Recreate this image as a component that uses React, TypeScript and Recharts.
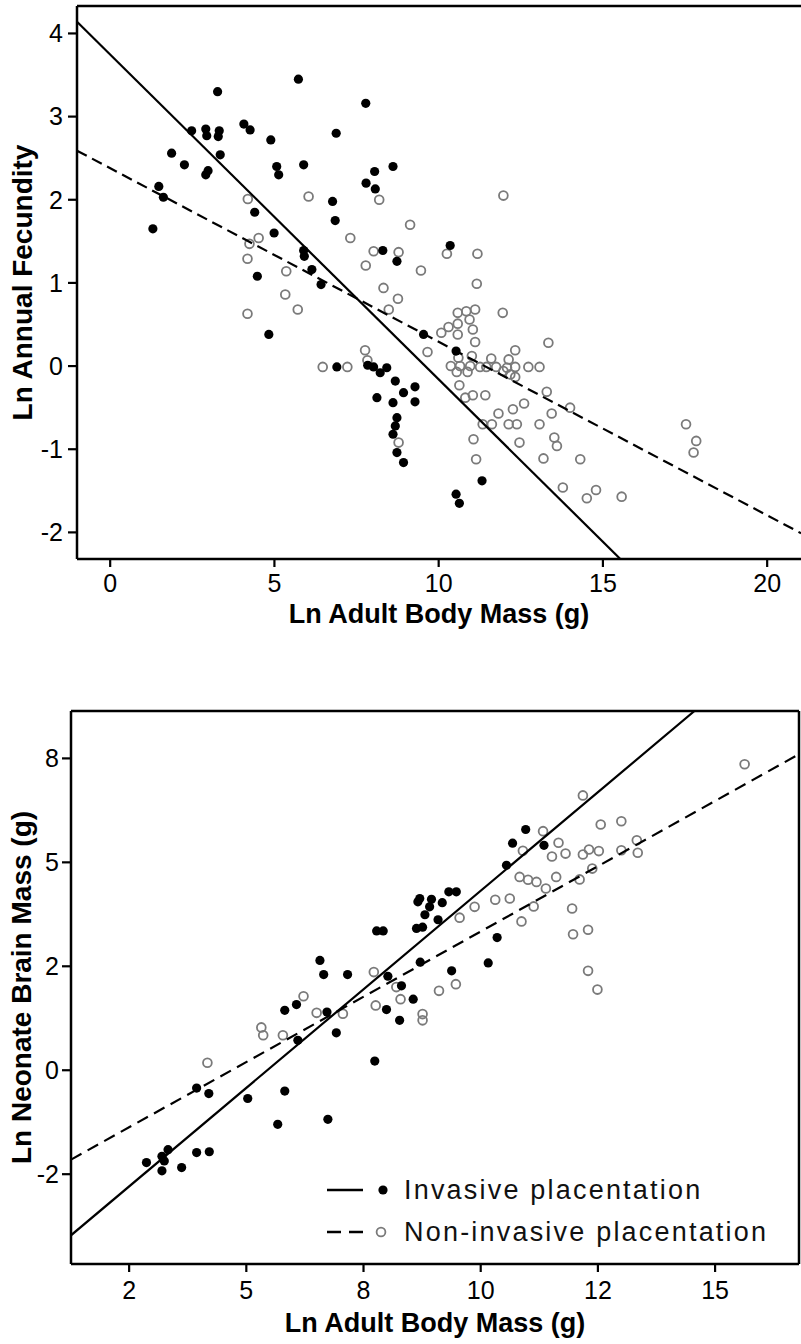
import React from "react";
import { ScatterChart, Scatter, XAxis, YAxis, Legend, ReferenceLine } from "recharts";

const FONT = '"Liberation Sans", Arial, Helvetica, sans-serif';

// top panel: ln annual fecundity vs ln adult body mass, [x, y]
const fecundityInvasive: [number, number][] = [
  [1.3, 1.65], [1.48, 2.16], [1.62, 2.03], [1.87, 2.56], [2.26, 2.42], [2.48, 2.83],
  [2.91, 2.85], [2.94, 2.77], [2.91, 2.3], [2.98, 2.35], [3.27, 3.3], [3.32, 2.83],
  [3.29, 2.76], [3.35, 2.54], [4.07, 2.91], [4.26, 2.84], [4.4, 1.85], [4.48, 1.08],
  [4.83, 0.38], [4.89, 2.72], [4.99, 1.6], [5.07, 2.4], [5.13, 2.3], [5.73, 3.45],
  [5.89, 2.42], [5.89, 1.39], [5.91, 1.32], [6.14, 1.16], [6.42, 0.98], [6.77, 1.98],
  [6.85, 1.75], [6.88, 2.8], [6.9, -0.01], [7.78, 3.16], [7.79, 2.2], [8.05, 2.34],
  [8.07, 2.13], [8.3, 1.39], [8.61, 2.4], [8.73, 1.26], [7.84, 0.01], [8.02, -0.01],
  [8.22, -0.08], [8.42, -0.02], [8.68, -0.18], [8.12, -0.38], [8.61, -0.44], [8.73, -0.62],
  [8.68, -0.72], [8.61, -0.82], [8.73, -1.04], [8.93, -0.32], [9.28, -0.25], [9.28, -0.43],
  [8.93, -1.16], [11.32, -1.38], [10.53, -1.54], [10.63, -1.65], [10.35, 1.45], [9.54, 0.38],
  [10.53, 0.18],
];

const fecundityNonInvasive: [number, number][] = [
  [4.19, 2.01], [4.24, 1.47], [4.52, 1.54], [4.18, 1.29], [4.18, 0.63], [5.36, 1.14],
  [5.33, 0.86], [5.71, 0.68], [6.04, 2.04], [6.47, -0.01], [7.22, -0.01], [7.31, 1.54],
  [7.76, 0.19], [7.83, 0.07], [8.19, 2.0], [8.02, 1.38], [7.78, 1.21], [8.32, 0.94],
  [8.78, 1.37], [8.76, 0.81], [8.48, 0.68], [9.46, 1.15], [10.25, 1.35], [11.18, 1.35],
  [11.16, 0.99], [9.13, 1.7], [11.97, 2.05], [10.58, 0.64], [10.84, 0.66], [11.11, 0.68],
  [11.95, 0.64], [10.94, 0.56], [10.58, 0.51], [10.3, 0.47], [10.08, 0.4], [11.04, 0.44],
  [10.58, 0.38], [11.11, 0.29], [9.66, 0.17], [13.34, 0.28], [12.33, 0.19], [10.6, 0.1],
  [11.01, 0.12], [11.6, 0.09], [12.13, 0.08], [10.37, 0.0], [10.65, 0.0], [10.96, 0.0],
  [11.26, -0.01], [11.45, -0.01], [11.75, -0.01], [12.08, -0.02], [12.33, -0.01], [12.73, -0.01],
  [13.07, -0.01], [10.55, -0.07], [10.88, -0.07], [12.18, -0.1], [11.97, -0.06], [12.33, -0.13],
  [10.63, -0.23], [11.04, -0.35], [11.42, -0.35], [10.81, -0.38], [13.29, -0.31], [12.6, -0.45],
  [12.26, -0.52], [11.82, -0.57], [13.44, -0.57], [14.0, -0.5], [11.34, -0.7], [11.62, -0.7],
  [12.13, -0.7], [12.38, -0.7], [13.07, -0.7], [17.53, -0.7], [11.06, -0.88], [12.46, -0.92],
  [13.52, -0.86], [13.6, -0.96], [17.84, -0.9], [17.76, -1.04], [11.14, -1.12], [13.19, -1.11],
  [14.31, -1.12], [13.78, -1.46], [14.79, -1.49], [14.51, -1.59], [15.57, -1.57], [8.78, -0.92],
];

// fitted lines, end points
const fecundityFitInvasive: [number, number][] = [[-1.01, 4.14], [15.53, -2.32]];
const fecundityFitNonInvasive: [number, number][] = [[-1.01, 2.59], [21.03, -2.01]];

const fecundityXTicks = [0, 5, 10, 15, 20];
const fecundityYTicks = [-2, -1, 0, 1, 2, 3, 4];

// bottom panel: ln neonate brain mass vs ln adult body mass
const brainInvasive: [number, number][] = [
  [2.87, -2.22], [3.2, -2.07], [3.25, -2.18], [3.2, -2.42], [3.33, -1.91], [3.62, -2.34],
  [3.94, -1.98], [4.21, -1.96], [3.94, -0.43], [4.2, -0.56], [5.03, -0.68], [5.67, -1.3],
  [5.82, -0.5], [6.74, -1.18], [7.74, 0.22], [5.82, 1.44], [6.07, 1.58], [6.72, 1.4],
  [6.92, 0.9], [7.99, 1.46], [8.27, 1.2], [6.1, 0.72], [6.57, 2.64], [6.65, 2.3],
  [7.16, 2.3], [8.02, 2.26], [8.31, 2.03], [8.56, 1.71], [7.78, 3.35], [7.92, 3.35],
  [8.63, 3.41], [8.76, 3.44], [8.81, 3.74], [9.09, 3.62], [8.7, 4.13], [8.66, 4.05],
  [8.95, 4.11], [8.91, 3.93], [9.18, 4.03], [9.32, 4.29], [9.48, 4.29], [10.35, 3.19],
  [8.71, 2.6], [10.16, 2.58], [9.38, 2.39], [10.55, 4.93], [10.68, 5.46], [10.96, 5.79],
  [11.35, 5.41],
];

const brainNonInvasive: [number, number][] = [
  [4.17, 0.18], [5.32, 1.03], [5.36, 0.84], [5.78, 0.84], [6.22, 1.78], [6.5, 1.38],
  [7.06, 1.36], [7.76, 1.56], [7.72, 2.36], [8.2, 2.0], [8.29, 1.71], [8.76, 1.35],
  [8.76, 1.2], [9.11, 1.91], [9.47, 2.07], [9.55, 3.67], [9.87, 3.93], [10.31, 4.1],
  [10.62, 4.13], [10.87, 3.58], [11.13, 3.94], [10.83, 4.65], [11.01, 4.58], [11.19, 4.53],
  [11.39, 4.37], [10.9, 5.28], [11.33, 5.75], [11.66, 5.47], [11.52, 5.14], [11.81, 5.21],
  [12.18, 5.19], [12.31, 5.31], [12.52, 5.27], [13.0, 5.29], [13.33, 5.53], [13.35, 5.23],
  [12.38, 4.85], [12.11, 4.59], [11.61, 4.65], [11.95, 3.89], [11.97, 3.27], [12.29, 3.38],
  [12.29, 2.39], [12.49, 1.94], [12.18, 6.61], [15.63, 7.36], [12.56, 5.91], [13.0, 5.99],
];

const brainFitInvasive: [number, number][] = [[1.26, -3.97], [14.56, 8.64]];
const brainFitNonInvasive: [number, number][] = [[1.26, -2.15], [16.79, 7.6]];

const brainXTicks = [2.5, 5, 7.5, 10, 12.5, 15];
const brainXTickLabels = ["2", "5", "8", "10", "12", "15"];
const brainYTicks = [-2.5, 0, 2.5, 5, 7.5];
const brainYTickLabels = ["-2", "0", "2", "5", "8"];

const legendLabels = ["Invasive placentation", "Non-invasive placentation"];

const toPoints = (rows: [number, number][]) => rows.map(([x, y]) => ({ x, y }));

const AXIS_LINE = { stroke: "#000", strokeWidth: 2.5 };
const TICK_LINE = { stroke: "#000", strokeWidth: 2.2 };
const TICK_TEXT = { fill: "#000", fontSize: 25, fontFamily: FONT };

const FilledDot = (p: any) => <circle cx={p.cx} cy={p.cy} r={4.6} fill="#000" />;
const OpenDot = (p: any) => (
  <circle cx={p.cx} cy={p.cy} r={4.4} fill="none" stroke="#7a7a7a" strokeWidth={1.8} />
);
const NoDot = () => <g />;

function XTitle(props: any) {
  const { viewBox, caption, baseOffset } = props;
  if (!viewBox) return null;
  return (
    <text
      x={viewBox.x + viewBox.width / 2}
      y={viewBox.y + baseOffset}
      textAnchor="middle"
      fontFamily={FONT}
      fontSize={27}
      fontWeight="bold"
      fill="#000"
    >
      {caption}
    </text>
  );
}

function YTitle(props: any) {
  const { viewBox, caption, centerX } = props;
  if (!viewBox) return null;
  const cy = viewBox.y + viewBox.height / 2;
  return (
    <text
      x={centerX}
      y={cy}
      transform={`rotate(-90 ${centerX} ${cy})`}
      textAnchor="middle"
      dominantBaseline="central"
      fontFamily={FONT}
      fontSize={28}
      fontWeight="bold"
      fill="#000"
    >
      {caption}
    </text>
  );
}

function PlacentationLegend() {
  return (
    <div style={{ fontFamily: FONT, fontSize: 27, letterSpacing: 2.2, color: "#111" }}>
      {legendLabels.map((label, i) => (
        <div key={label} style={{ display: "flex", alignItems: "center", height: 42 }}>
          <svg width={79} height={20} style={{ flex: "none" }}>
            <line
              x1={2}
              x2={38}
              y1={10}
              y2={10}
              stroke="#000"
              strokeWidth={2.5}
              strokeDasharray={i === 0 ? undefined : "14 8"}
            />
            {i === 0 ? (
              <circle cx={58} cy={10} r={4.6} fill="#000" />
            ) : (
              <circle cx={56} cy={10} r={4.4} fill="none" stroke="#7a7a7a" strokeWidth={1.8} />
            )}
          </svg>
          <span style={{ whiteSpace: "nowrap" }}>{label}</span>
        </div>
      ))}
    </div>
  );
}

function FecundityChart() {
  const xDomain: [number, number] = [-1.01, 21.03];
  const yDomain: [number, number] = [-2.32, 4.33];
  return (
    <ScatterChart width={801} height={640} margin={{ top: 6, right: 0, bottom: 0, left: 0 }}>
      <XAxis
        type="number"
        dataKey="x"
        domain={xDomain}
        ticks={fecundityXTicks}
        interval={0}
        allowDataOverflow
        height={81}
        tickSize={8}
        tickMargin={7}
        axisLine={AXIS_LINE}
        tickLine={TICK_LINE}
        tick={TICK_TEXT}
        label={<XTitle caption="Ln Adult Body Mass (g)" baseOffset={64} />}
      />
      <YAxis
        type="number"
        dataKey="y"
        domain={yDomain}
        ticks={fecundityYTicks}
        interval={0}
        allowDataOverflow
        width={77}
        tickSize={9}
        tickMargin={5}
        axisLine={AXIS_LINE}
        tickLine={TICK_LINE}
        tick={TICK_TEXT}
        label={<YTitle caption="Ln Annual Fecundity" centerX={22} />}
      />
      {/* top edge of the frame */}
      <ReferenceLine y={yDomain[1]} stroke="#000" strokeWidth={2.5} ifOverflow="visible" />
      <Scatter data={toPoints(fecundityNonInvasive)} shape={OpenDot} isAnimationActive={false} />
      <Scatter data={toPoints(fecundityInvasive)} shape={FilledDot} isAnimationActive={false} />
      <Scatter
        data={toPoints(fecundityFitInvasive)}
        shape={NoDot}
        line={{ stroke: "#000", strokeWidth: 2.2 }}
        isAnimationActive={false}
      />
      <Scatter
        data={toPoints(fecundityFitNonInvasive)}
        shape={NoDot}
        line={{ stroke: "#000", strokeWidth: 2.2, strokeDasharray: "11 6" }}
        isAnimationActive={false}
      />
    </ScatterChart>
  );
}

function BrainChart() {
  const xDomain: [number, number] = [1.26, 16.79];
  const yDomain: [number, number] = [-4.66, 8.64];
  return (
    <ScatterChart width={801} height={654} margin={{ top: 21, right: 2, bottom: 0, left: 0 }}>
      <XAxis
        type="number"
        dataKey="x"
        domain={xDomain}
        ticks={brainXTicks}
        interval={0}
        allowDataOverflow
        height={80}
        tickSize={8}
        tickMargin={9}
        axisLine={AXIS_LINE}
        tickLine={TICK_LINE}
        tick={TICK_TEXT}
        tickFormatter={(_v: number, i: number) => brainXTickLabels[i]}
        label={<XTitle caption="Ln Adult Body Mass (g)" baseOffset={68} />}
      />
      <YAxis
        type="number"
        dataKey="y"
        domain={yDomain}
        ticks={brainYTicks}
        interval={0}
        allowDataOverflow
        width={71}
        tickSize={9}
        tickMargin={3}
        axisLine={AXIS_LINE}
        tickLine={TICK_LINE}
        tick={TICK_TEXT}
        tickFormatter={(_v: number, i: number) => brainYTickLabels[i]}
        label={<YTitle caption="Ln Neonate Brain Mass (g)" centerX={21} />}
      />
      {/* top and right edges of the frame */}
      <ReferenceLine y={yDomain[1]} stroke="#000" strokeWidth={2.5} ifOverflow="visible" />
      <ReferenceLine x={xDomain[1]} stroke="#000" strokeWidth={2.5} ifOverflow="visible" />
      <Scatter data={toPoints(brainNonInvasive)} shape={OpenDot} isAnimationActive={false} />
      <Scatter data={toPoints(brainInvasive)} shape={FilledDot} isAnimationActive={false} />
      <Scatter
        data={toPoints(brainFitInvasive)}
        shape={NoDot}
        line={{ stroke: "#000", strokeWidth: 2.2 }}
        isAnimationActive={false}
      />
      <Scatter
        data={toPoints(brainFitNonInvasive)}
        shape={NoDot}
        line={{ stroke: "#000", strokeWidth: 2.2, strokeDasharray: "12 7" }}
        isAnimationActive={false}
      />
      <Legend
        layout="horizontal"
        verticalAlign="middle"
        align="center"
        wrapperStyle={{ left: 325, top: 479, width: 470, height: 84 }}
        content={() => <PlacentationLegend />}
      />
    </ScatterChart>
  );
}

export default function App() {
  return (
    <div style={{ position: "absolute", left: 0, top: 0, width: 801, height: 1344, background: "#fff" }}>
      <div style={{ position: "absolute", left: 0, top: 0 }}>
        <FecundityChart />
      </div>
      <div style={{ position: "absolute", left: 0, top: 690 }}>
        <BrainChart />
      </div>
    </div>
  );
}
